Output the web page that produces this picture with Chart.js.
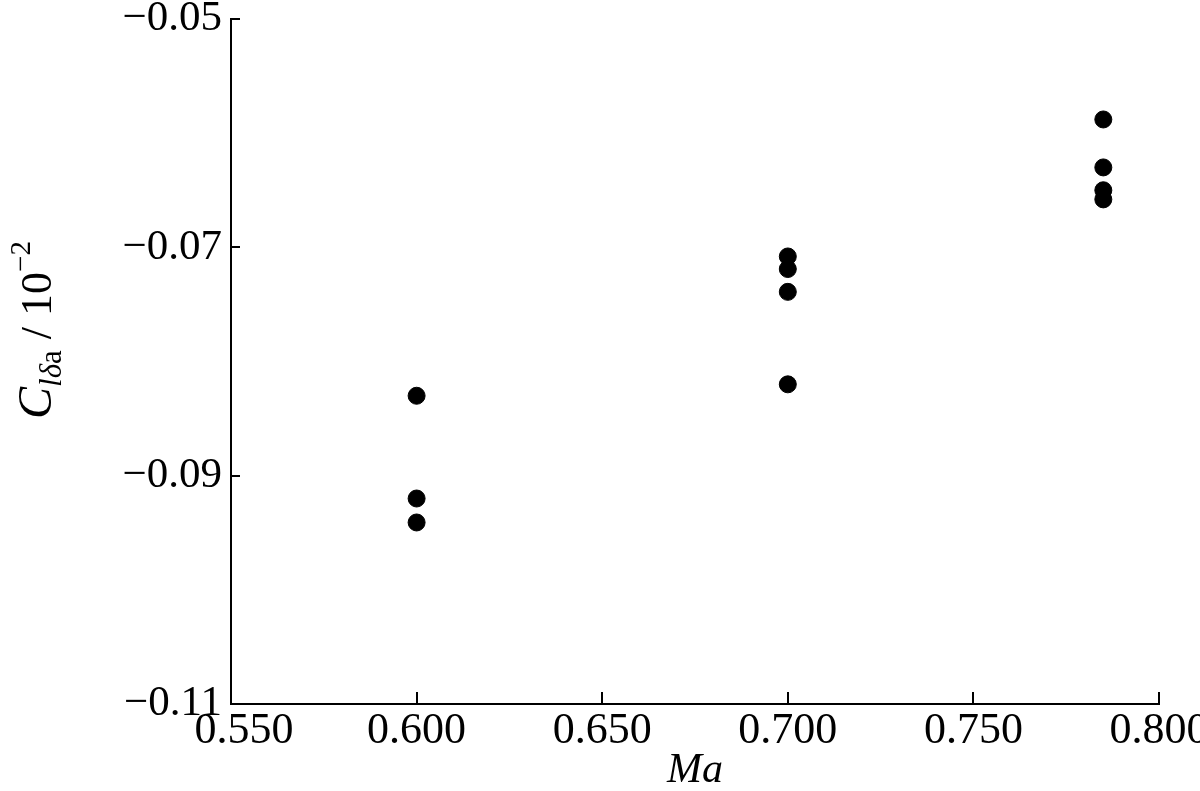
<!DOCTYPE html>
<html>
<head>
<meta charset="utf-8">
<script src="https://cdn.jsdelivr.net/npm/chart.js@4"></script>
<style>
  html, body { margin: 0; padding: 0; background: #fff; }
  #wrap { width: 1200px; height: 791px; position: relative; }
</style>
</head>
<body>
<div id="wrap"><canvas id="c"></canvas></div>
<script>
// values
const machX = [0.600, 0.600, 0.600, 0.700, 0.700, 0.700, 0.700, 0.785, 0.785, 0.785, 0.785];
const clValues = [-0.0830, -0.0920, -0.0941, -0.0708, -0.0719, -0.0739, -0.0820, -0.0588, -0.0630, -0.0650, -0.0658];
const xTicks = [0.550, 0.600, 0.650, 0.700, 0.750, 0.800];
const yTicks = [-0.11, -0.09, -0.07, -0.05];
const xTitle = 'Ma';
const yTitleParts = [
  { t: 'C', italic: true, size: 48, dy: 0 },
  { t: 'lδ', italic: true, size: 31, dy: 10 },
  { t: 'a', italic: false, size: 31, dy: 10 },
  { t: ' / 10', italic: false, size: 44, dy: 0 },
  { t: '−2', italic: false, size: 29, dy: -21 },
];

const FONT = '"Liberation Serif", "DejaVu Serif", serif';
const fmtY = v => (v < 0 ? '−' : '') + Math.abs(v).toFixed(2);

// first x label sits a bit right of its tick in the original, clear of the y labels
const nudgeFirstLabel = {
  id: 'nudgeFirstLabel',
  beforeDraw(chart){
    const items = chart.scales.x.getLabelItems(chart.chartArea);
    if (items.length && !items[0]._nudged){
      items[0].options.translation[0] += 13;
      items[0]._nudged = true;
    }
  }
};

// inward tick marks, placed with the scales
const innerTicks = {
  id: 'innerTicks',
  afterDraw(chart){
    const ctx = chart.ctx, a = chart.chartArea;
    const xs = chart.scales.x, ys = chart.scales.y;
    ctx.save();
    ctx.strokeStyle = '#000';
    ctx.lineWidth = 2;
    ctx.beginPath();
    xTicks.forEach(v => {
      const px = Math.round(xs.getPixelForValue(v));
      ctx.moveTo(px, a.bottom); ctx.lineTo(px, a.bottom - 12);
    });
    yTicks.forEach(v => {
      const py = Math.round(ys.getPixelForValue(v));
      ctx.moveTo(a.left, py); ctx.lineTo(a.left + 9, py);
    });
    ctx.stroke();
    ctx.restore();
  }
};

const titles = {
  id: 'titles',
  afterDraw(chart){
    const ctx = chart.ctx, area = chart.chartArea;
    ctx.save();
    ctx.fillStyle = '#000';
    // x title
    ctx.font = 'italic 42px ' + FONT;
    ctx.textAlign = 'center';
    ctx.textBaseline = 'alphabetic';
    ctx.fillText(xTitle, (area.left + area.right) / 2, 782);
    // y title, rotated, built from parts so sub/superscripts work
    ctx.translate(51, 330);
    ctx.rotate(-Math.PI / 2);
    ctx.textAlign = 'left';
    let total = 0;
    const widths = yTitleParts.map(p => {
      ctx.font = (p.italic ? 'italic ' : '') + p.size + 'px ' + FONT;
      const w = ctx.measureText(p.t).width;
      total += w;
      return w;
    });
    let x = -total / 2;
    yTitleParts.forEach((p, i) => {
      ctx.font = (p.italic ? 'italic ' : '') + p.size + 'px ' + FONT;
      ctx.fillText(p.t, x, p.dy);
      x += widths[i];
    });
    ctx.restore();
  }
};

new Chart(document.getElementById('c'), {
  type: 'scatter',
  data: {
    datasets: [{
      data: machX.map((x, i) => ({ x, y: clValues[i] })),
      backgroundColor: '#000',
      borderColor: '#000',
      pointRadius: 8.5,
      pointHoverRadius: 8.5,
    }]
  },
  options: {
    responsive: true,
    maintainAspectRatio: false,
    animation: false,
    layout: { padding: { top: 19, right: 41, left: 0, bottom: 0 } },
    plugins: { legend: { display: false }, tooltip: { enabled: false } },
    scales: {
      x: {
        type: 'linear',
        min: 0.550, max: 0.800,
        afterBuildTicks: s => { s.ticks = xTicks.map(v => ({ value: v })); },
        afterFit: s => { s.height = 87; s.paddingLeft = 0; s.paddingRight = 0; },
        border: { display: true, color: '#000', width: 2 },
        grid: { display: false, drawTicks: false },
        ticks: {
          color: '#000', padding: 1, maxRotation: 0, autoSkip: false,
          font: { family: FONT, size: 44 },
          callback: v => v.toFixed(3)
        }
      },
      y: {
        type: 'linear',
        min: -0.11, max: -0.05,
        afterBuildTicks: s => { s.ticks = yTicks.map(v => ({ value: v })); },
        afterFit: s => { s.width = 231; s.paddingTop = 0; s.paddingBottom = 0; },
        border: { display: true, color: '#000', width: 2 },
        grid: { display: false, drawTicks: false },
        ticks: {
          color: '#000', padding: 9, autoSkip: false,
          font: { family: FONT, size: 43 },
          callback: v => fmtY(v)
        }
      }
    }
  },
  plugins: [nudgeFirstLabel, innerTicks, titles]
});
</script>
</body>
</html>
